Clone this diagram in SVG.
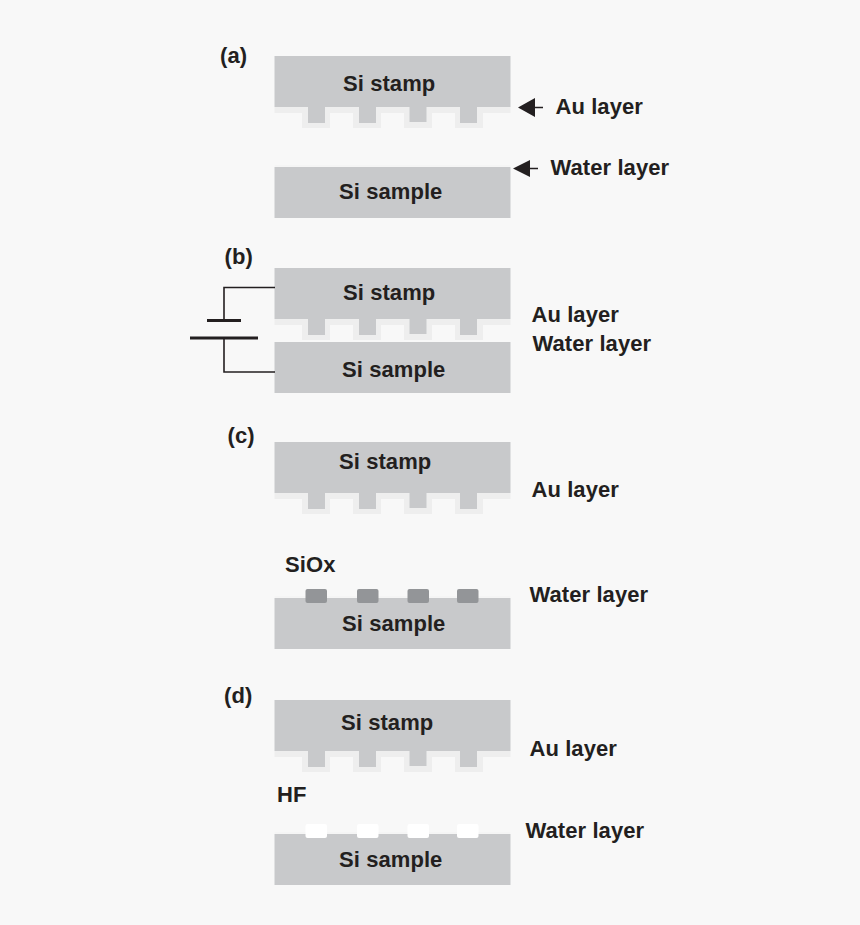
<svg xmlns="http://www.w3.org/2000/svg" xmlns:xlink="http://www.w3.org/1999/xlink" width="860" height="925" viewBox="0 0 860 925">
<style>
.si{fill:#c8c9cb}
.au{fill:#eeeeee}
.ox{fill:#939598}
.hf{fill:#ffffff}
.t{font-family:"Liberation Sans",Arial,sans-serif;font-weight:bold;font-size:22px;letter-spacing:.08px;fill:#231f20}
.w{fill:none;stroke:#231f20;stroke-width:1.6}
.p{fill:none;stroke:#231f20;stroke-width:3}
.a{fill:#231f20;stroke:none}
</style>
<defs>
<g id="teeth">
<path class="au" d="M274.5 0H510.5V6H483V21H455V6H432V21H404V6H381V21H353V6H330V21H302V6H274.5Z"/>
<path class="si" d="M308 0H325V16H308ZM359 0H376V16H359ZM409.500 0H426.500V15H409.500ZM460 0H477V16H460Z"/>
</g>
<g id="dots">
<rect x="305.500" width="21.500" height="14" rx="2"/>
<rect x="357" width="21.500" height="14" rx="2"/>
<rect x="407.500" width="21.500" height="14" rx="2"/>
<rect x="457" width="21.500" height="14" rx="2"/>
</g>
</defs>
<rect width="860" height="925" fill="#f8f8f8"/>

<g id="panel-a">
<text class="t" x="220" y="63">(a)</text>
<g id="a-stamp"><use xlink:href="#teeth" href="#teeth" y="107"/><rect class="si" x="274.500" y="56" width="236" height="51"/><text class="t" x="343" y="91">Si stamp</text></g>
<g id="a-sample"><rect x="274.500" y="165" width="236" height="2" fill="#f5f5f5"/><rect class="si" x="274.500" y="167" width="236" height="51"/><text class="t" x="339" y="199">Si sample</text></g>
<g id="a-au"><text class="t" x="555.500" y="114">Au layer</text></g>
<g id="a-water"><text class="t" x="550.500" y="175">Water layer</text></g>
</g>

<g id="panel-b">
<text class="t" x="224.500" y="264">(b)</text>
<g id="b-stamp"><use xlink:href="#teeth" href="#teeth" y="319"/><rect class="si" x="274.500" y="268" width="236" height="51"/><text class="t" x="343" y="300">Si stamp</text></g>
<g id="b-sample"><rect class="si" x="274.500" y="342" width="236" height="51"/><text class="t" x="342" y="377">Si sample</text></g>
<g id="b-au"><text class="t" x="531.500" y="322">Au layer</text></g>
<g id="b-water"><text class="t" x="532.500" y="351">Water layer</text></g>
</g>

<g id="panel-c">
<text class="t" x="227.500" y="443">(c)</text>
<g id="c-stamp"><use xlink:href="#teeth" href="#teeth" y="493"/><rect class="si" x="274.500" y="442" width="236" height="51"/><text class="t" x="339" y="469">Si stamp</text></g>
<g id="c-sample"><rect x="274.500" y="596" width="236" height="2" fill="#f5f5f5"/><rect class="si" x="274.500" y="598" width="236" height="51"/><use xlink:href="#dots" href="#dots" class="ox" y="589"/><text class="t" x="342" y="631">Si sample</text></g>
<g id="c-siox"><text class="t" x="285" y="572">SiOx</text></g>
<g id="c-au"><text class="t" x="531.500" y="497">Au layer</text></g>
<g id="c-water"><text class="t" x="529.500" y="602">Water layer</text></g>
</g>

<g id="panel-d">
<text class="t" x="224" y="703">(d)</text>
<g id="d-stamp"><use xlink:href="#teeth" href="#teeth" y="751"/><rect class="si" x="274.500" y="700" width="236" height="51"/><text class="t" x="341" y="730">Si stamp</text></g>
<g id="d-sample"><rect x="274.500" y="832" width="236" height="2" fill="#f5f5f5"/><rect class="si" x="274.500" y="834" width="236" height="51"/><use xlink:href="#dots" href="#dots" class="hf" y="824"/><text class="t" x="339" y="867">Si sample</text></g>
<g id="d-hf"><text class="t" x="277" y="802">HF</text></g>
<g id="d-au"><text class="t" x="529.500" y="756">Au layer</text></g>
<g id="d-water"><text class="t" x="525.500" y="838">Water layer</text></g>
</g>

<g id="connectors">
<path class="w" d="M275 287.500H224V320"/>
<path class="p" d="M207 320.500H241"/>
<path class="p" d="M190 338H258"/>
<path class="w" d="M224 338V372H275"/>
<path class="a" d="M518 107.500L535 98V106.800H543V108.200H535V117Z"/>
<path class="a" d="M513 168.500L530 160V167.800H538V169.200H530V177Z"/>
</g>
</svg>
